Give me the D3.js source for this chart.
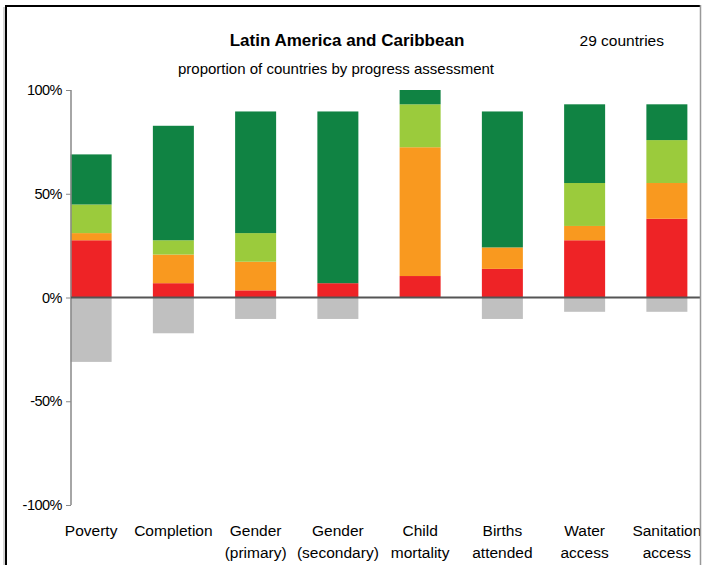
<!DOCTYPE html>
<html>
<head>
<meta charset="utf-8">
<style>
  body { margin: 0; background: #fff; }
  text { font-family: "Liberation Sans", Arial, sans-serif; fill: #000; }
</style>
</head>
<body>
<svg width="702" height="565"></svg>
<script src="https://d3js.org/d3.v7.min.js"></script>
<script>
// goals along the x axis
var categories = ["Poverty", "Completion", "Gender|(primary)", "Gender|(secondary)",
                  "Child|mortality", "Births|attended", "Water|access", "Sanitation|access"];
var nCountries = 29;

// number of countries in each progress assessment (stacked upward from 0)
var red        = [8, 2, 1, 2, 3, 4, 8, 11];
var orange     = [1, 4, 4, 0, 18, 3, 2, 5];
var lightGreen = [4, 2, 4, 0, 6, 0, 6, 6];
var darkGreen  = [7, 16, 17, 24, 2, 19, 11, 5];
// countries with insufficient data (drawn below 0)
var noData     = [9, 5, 3, 3, 0, 3, 2, 2];

var yTicks = [1, 0.5, 0, -0.5, -1];
var yTickLabels = ["100%", "50%", "0%", "-50%", "-100%"];

var svg = d3.select("svg");

// clip everything at the right frame edge
svg.append("defs").append("clipPath").attr("id", "frameclip")
  .append("rect").attr("x", 0).attr("y", 0).attr("width", 700).attr("height", 565);
var root = svg.append("g").attr("clip-path", "url(#frameclip)");

// titles
root.append("text").attr("x", 347).attr("y", 46).attr("text-anchor", "middle")
    .attr("font-size", 17).attr("font-weight", "bold")
    .text("Latin America and Caribbean");
root.append("text").attr("x", 336).attr("y", 74).attr("text-anchor", "middle")
    .attr("font-size", 15)
    .text("proportion of countries by progress assessment");
root.append("text").attr("x", 664).attr("y", 46).attr("text-anchor", "end")
    .attr("font-size", 15.5)
    .text("29 countries");

var x = d3.scaleBand().domain(categories).range([50, 708]);
var barW = 41;
var y = d3.scaleLinear().domain([-1, 1]).range([505, 90]);

var rows = categories.map(function(c, i) {
  return { cat: c, red: red[i], orange: orange[i], lightGreen: lightGreen[i], darkGreen: darkGreen[i] };
});
var keys = ["red", "orange", "lightGreen", "darkGreen"];
var colors = { red: "#EE2326", orange: "#F9991F", lightGreen: "#9BCB3C", darkGreen: "#108343" };

var stack = d3.stack().keys(keys)(rows);

root.append("g").selectAll("g")
  .data(stack)
  .enter().append("g")
    .attr("fill", function(d) { return colors[d.key]; })
  .selectAll("rect")
  .data(function(d) { return d; })
  .enter().append("rect")
    .attr("x", function(d) { return x(d.data.cat) + x.bandwidth() / 2 - barW / 2; })
    .attr("y", function(d) { return y(d[1] / nCountries); })
    .attr("height", function(d) { return y(d[0] / nCountries) - y(d[1] / nCountries); })
    .attr("width", barW);

// no-data bars below zero
root.append("g").selectAll("rect")
  .data(categories)
  .enter().append("rect")
    .attr("fill", "#C0C0C0")
    .attr("x", function(d) { return x(d) + x.bandwidth() / 2 - barW / 2; })
    .attr("y", y(0))
    .attr("height", function(d, i) { return y(-noData[i] / nCountries) - y(0); })
    .attr("width", barW);

// y axis
var yAxis = root.append("g").attr("transform", "translate(71,0)")
  .call(d3.axisLeft(y).tickValues(yTicks).tickSize(5).tickPadding(4)
    .tickFormat(function(d, i) { return yTickLabels[i]; }));
yAxis.select(".domain").attr("stroke", "#888").attr("stroke-width", 1.5)
    .attr("d", "M0," + y(1) + "V" + y(-1));
yAxis.selectAll(".tick line").attr("stroke", "#888");
yAxis.selectAll(".tick text").attr("font-size", 14.5)
    .attr("font-family", "Liberation Sans, Arial, sans-serif").attr("fill", "#000")
    .attr("letter-spacing", -0.5);

// zero line
root.append("line")
    .attr("x1", 71).attr("x2", 700).attr("y1", y(0)).attr("y2", y(0))
    .attr("stroke", "#555").attr("stroke-width", 2);

// category labels
var lab = root.append("g").selectAll("text")
  .data(categories)
  .enter().append("text")
    .attr("text-anchor", "middle")
    .attr("font-size", 15.5)
    .attr("x", function(d) { return x(d) + x.bandwidth() / 2; })
    .attr("y", 536);
lab.each(function(d) {
  var parts = d.split("|");
  var t = d3.select(this);
  parts.forEach(function(p, j) {
    t.append("tspan").attr("x", t.attr("x")).attr("dy", j === 0 ? 0 : 22).text(p);
  });
});

// frame
svg.append("line").attr("x1", 5).attr("y1", 6).attr("x2", 700).attr("y2", 6)
    .attr("stroke", "#000").attr("stroke-width", 2);
svg.append("line").attr("x1", 6).attr("y1", 5).attr("x2", 6).attr("y2", 565)
    .attr("stroke", "#000").attr("stroke-width", 2);
svg.append("line").attr("x1", 4).attr("y1", 7).attr("x2", 4).attr("y2", 565)
    .attr("stroke", "#aaa").attr("stroke-width", 1);
svg.append("line").attr("x1", 700.5).attr("y1", 5).attr("x2", 700.5).attr("y2", 565)
    .attr("stroke", "#999").attr("stroke-width", 1.5);
</script>
</body>
</html>
